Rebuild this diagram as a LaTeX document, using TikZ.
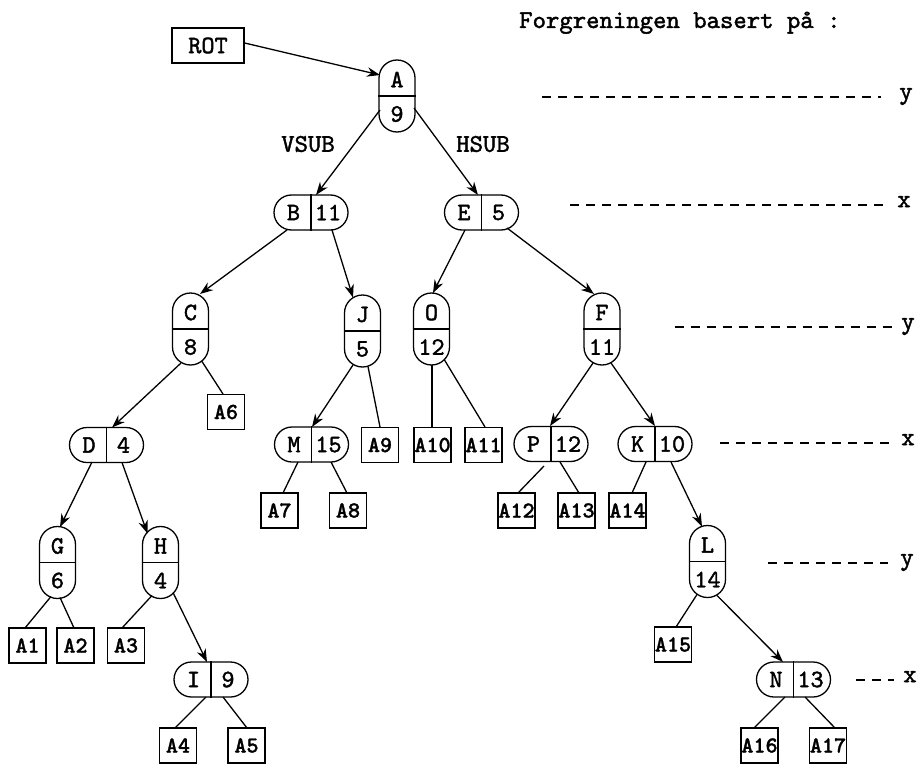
\documentclass[tikz,border=0pt]{standalone}
\usepackage{fontspec}
\newfontfamily\heavytt{lmmono10-regular.otf}[FakeBold=1.6]
\newfontfamily\leaftt{lmmonolt10-bold.otf}[FakeBold=1.2]
\usetikzlibrary{arrows.meta}
\tikzset{
  base/.style={line width=1.3pt},
  hcapsty/.style={base, draw, rectangle, rounded corners=17.5pt, minimum width=74pt, minimum height=35pt, inner sep=0pt},
  vcapsty/.style={base, draw, rectangle, rounded corners=18pt, minimum width=36pt, minimum height=72pt, inner sep=0pt},
  leaf/.style={base, draw, rectangle, minimum width=37pt, minimum height=35pt, inner sep=0pt, font=\fontsize{23}{26}\selectfont\leaftt},
  captxt/.style={inner sep=0pt, font=\fontsize{25}{28}\selectfont\heavytt},
  lbl/.style={inner sep=0pt, font=\fontsize{25.5}{29}\selectfont\heavytt},
  arr/.style={base, -{Stealth[length=13pt,width=9.5pt]}},
  ln/.style={base},
  dashline/.style={line width=1.5pt, dash pattern=on 9pt off 7pt},
}
\newcommand\hcap[5]{%
  \node[hcapsty] (#1) at (#2,#3) {};
  \draw[base] (#1.north) -- (#1.south);
  \node[captxt] (#1a) at ([shift={(-17.5,0)}]#1.center) {#4};
  \node[captxt] (#1b) at ([shift={(17,0)}]#1.center) {#5};}
\newcommand\vcap[5]{%
  \node[vcapsty] (#1) at (#2,#3) {};
  \draw[base] (#1.west) -- (#1.east);
  \node[captxt] (#1a) at ([shift={(0,-16.5)}]#1.center) {#4};
  \node[captxt] (#1b) at ([shift={(0,18)}]#1.center) {#5};}
\begin{document}
\begin{tikzpicture}[x=1pt, y=-1pt]
\useasboundingbox (0,0) rectangle (920,765);

% title
\node[lbl, anchor=base west] (title) at (519,28) {Forgreningen basert på :};

% root pointer
\node[base, draw, rectangle, minimum width=72pt, minimum height=35pt, inner sep=0pt, font=\fontsize{25}{28}\selectfont\heavytt] (ROT) at (208,45.5) {ROT};

% internal nodes
\vcap{A}{397}{96}{A}{9}
\hcap{B}{311}{212.5}{B}{11}
\hcap{E}{481.5}{212.5}{E}{5}
\vcap{C}{190.5}{329}{C}{8}
\vcap{J}{362.5}{331}{J}{5}
\vcap{O}{431.5}{329}{O}{12}
\vcap{F}{602}{329}{F}{11}
\hcap{D}{106.5}{445}{D}{4}
\hcap{M}{311.5}{444.5}{M}{15}
\hcap{P}{551}{444}{P}{12}
\hcap{K}{655}{444}{K}{10}
\vcap{G}{57.5}{562.5}{G}{6}
\vcap{H}{160.5}{562.5}{H}{4}
\vcap{L}{707.5}{561.5}{L}{14}
\hcap{I}{211}{679.5}{I}{9}
\hcap{N}{793.5}{679.5}{N}{13}

% leaves
\node[leaf] (A6) at (226,412) {A6};
\node[leaf] (A9) at (380,445) {A9};
\node[leaf] (A10) at (432.5,445) {A10};
\node[leaf] (A11) at (483.5,445) {A11};
\node[leaf] (A7) at (279.5,510.5) {A7};
\node[leaf] (A8) at (348,510.5) {A8};
\node[leaf] (A12) at (516.5,510.5) {A12};
\node[leaf] (A13) at (576.5,510.5) {A13};
\node[leaf] (A14) at (627.5,510.5) {A14};
\node[leaf] (A1) at (27.5,645.5) {A1};
\node[leaf] (A2) at (75.5,645.5) {A2};
\node[leaf] (A3) at (126,645.5) {A3};
\node[leaf] (A15) at (673,644.5) {A15};
\node[leaf] (A4) at (178,745.5) {A4};
\node[leaf] (A5) at (246.5,745.5) {A5};
\node[leaf] (A16) at (759.5,745.5) {A16};
\node[leaf] (A17) at (828,745.5) {A17};

% labels
\node[lbl] (vsub) at (308,144) {VSUB};
\node[lbl] (hsub) at (483,144) {HSUB};

% connectors
\draw[arr] ([shift={(0,-2.5)}]ROT.east) -- ([shift={(-17,-21)}]A.center);
\draw[arr] ([shift={(-17,14)}]A.center) -- ([shift={(5,-17.5)}]B.center);
\draw[arr] ([shift={(17,12)}]A.center) -- ([shift={(-3.5,-17.5)}]E.center);
\draw[arr] ([shift={(-24,17.5)}]B.center) -- ([shift={(9.5,-35)}]C.center);
\draw[arr] ([shift={(21,17.5)}]B.center) -- ([shift={(-9.5,-33.5)}]J.center);
\draw[arr] ([shift={(-16.5,17.5)}]E.center) -- ([shift={(1.5,-36)}]O.center);
\draw[arr] ([shift={(25.5,15.5)}]E.center) -- ([shift={(-8,-35)}]F.center);
\draw[arr] ([shift={(-9.5,34)}]C.center) -- ([shift={(5.5,-17.5)}]D.center);
\draw[ln]  ([shift={(11.5,32.5)}]C.center) -- ([shift={(-3,-18)}]A6.center);
\draw[arr] ([shift={(-9.5,34)}]J.center) -- ([shift={(0.5,-17.5)}]M.center);
\draw[ln]  ([shift={(5.5,35.5)}]J.center) -- ([shift={(0,-18)}]A9.center);
\draw[ln]  ([shift={(0.5,36)}]O.center) -- ([shift={(-0.5,-18)}]A10.center);
\draw[ln]  ([shift={(13,31)}]O.center) -- ([shift={(1.5,-18)}]A11.center);
\draw[arr] ([shift={(-9,34)}]F.center) -- ([shift={(-1,-18)}]P.center);
\draw[arr] ([shift={(9,34)}]F.center) -- ([shift={(0,-18)}]K.center);
\draw[arr] ([shift={(-14.5,17)}]D.center) -- ([shift={(2.5,-35.5)}]G.center);
\draw[arr] ([shift={(15.5,17.5)}]D.center) -- ([shift={(-13,-29)}]H.center);
\draw[ln]  ([shift={(-6.5,34)}]G.center) -- ([shift={(-2.5,-17.5)}]A1.center);
\draw[ln]  ([shift={(2.5,35)}]G.center) -- ([shift={(-1.5,-17.5)}]A2.center);
\draw[ln]  ([shift={(-8.5,33)}]H.center) -- ([shift={(-4,-17.5)}]A3.center);
\draw[arr] ([shift={(12.5,30)}]H.center) -- ([shift={(-4,-17.5)}]I.center);
\draw[ln]  ([shift={(-5,17.5)}]I.center) -- ([shift={(-3,-17.5)}]A4.center);
\draw[ln]  ([shift={(12,17.5)}]I.center) -- ([shift={(0.5,-17.5)}]A5.center);
\draw[ln]  ([shift={(-13.5,17.5)}]M.center) -- ([shift={(3.5,-17.5)}]A7.center);
\draw[ln]  ([shift={(19.5,17.5)}]M.center) -- ([shift={(-1,-17.5)}]A8.center);
\draw[ln]  ([shift={(-7,22)}]P.center) -- ([shift={(1.5,-17.5)}]A12.center);
\draw[ln]  ([shift={(9,18)}]P.center) -- ([shift={(2.5,-17.5)}]A13.center);
\draw[ln]  ([shift={(-9,18)}]K.center) -- ([shift={(4.5,-17.5)}]A14.center);
\draw[arr] ([shift={(16,18)}]K.center) -- ([shift={(-5.5,-35)}]L.center);
\draw[ln]  ([shift={(-10.5,33)}]L.center) -- ([shift={(3,-17.5)}]A15.center);
\draw[arr] ([shift={(9.5,34)}]L.center) -- ([shift={(-10.5,-17.5)}]N.center);
\draw[ln]  ([shift={(-8.5,17.5)}]N.center) -- ([shift={(-5.5,-17.5)}]A16.center);
\draw[ln]  ([shift={(11.5,17.5)}]N.center) -- ([shift={(7,-17.5)}]A17.center);

% split-direction indicators
\node[lbl, anchor=mid] (ly1) at (906,97) {y};
\node[lbl, anchor=mid] (lx1) at (904,205) {x};
\node[lbl, anchor=mid] (ly2) at (908,327) {y};
\node[lbl, anchor=mid] (lx2) at (908,443) {x};
\node[lbl, anchor=mid] (ly3) at (907,563) {y};
\node[lbl, anchor=mid] (lx3) at (910,680) {x};
\coordinate (d1) at (542,97);  \coordinate (e1) at (881,97);
\coordinate (d2) at (570,205); \coordinate (e2) at (889,205);
\coordinate (d3) at (675,327); \coordinate (e3) at (894,327);
\coordinate (d4) at (720,443); \coordinate (e4) at (894,443);
\coordinate (d5) at (768,563); \coordinate (e5) at (888,563);
\coordinate (d6) at (856,680); \coordinate (e6) at (894,680);
\draw[dashline] (d1) -- (e1);
\draw[dashline] (d2) -- (e2);
\draw[dashline] (d3) -- (e3);
\draw[dashline] (d4) -- (e4);
\draw[dashline] (d5) -- (e5);
\draw[dashline] (d6) -- (e6);
\end{tikzpicture}
\end{document}
